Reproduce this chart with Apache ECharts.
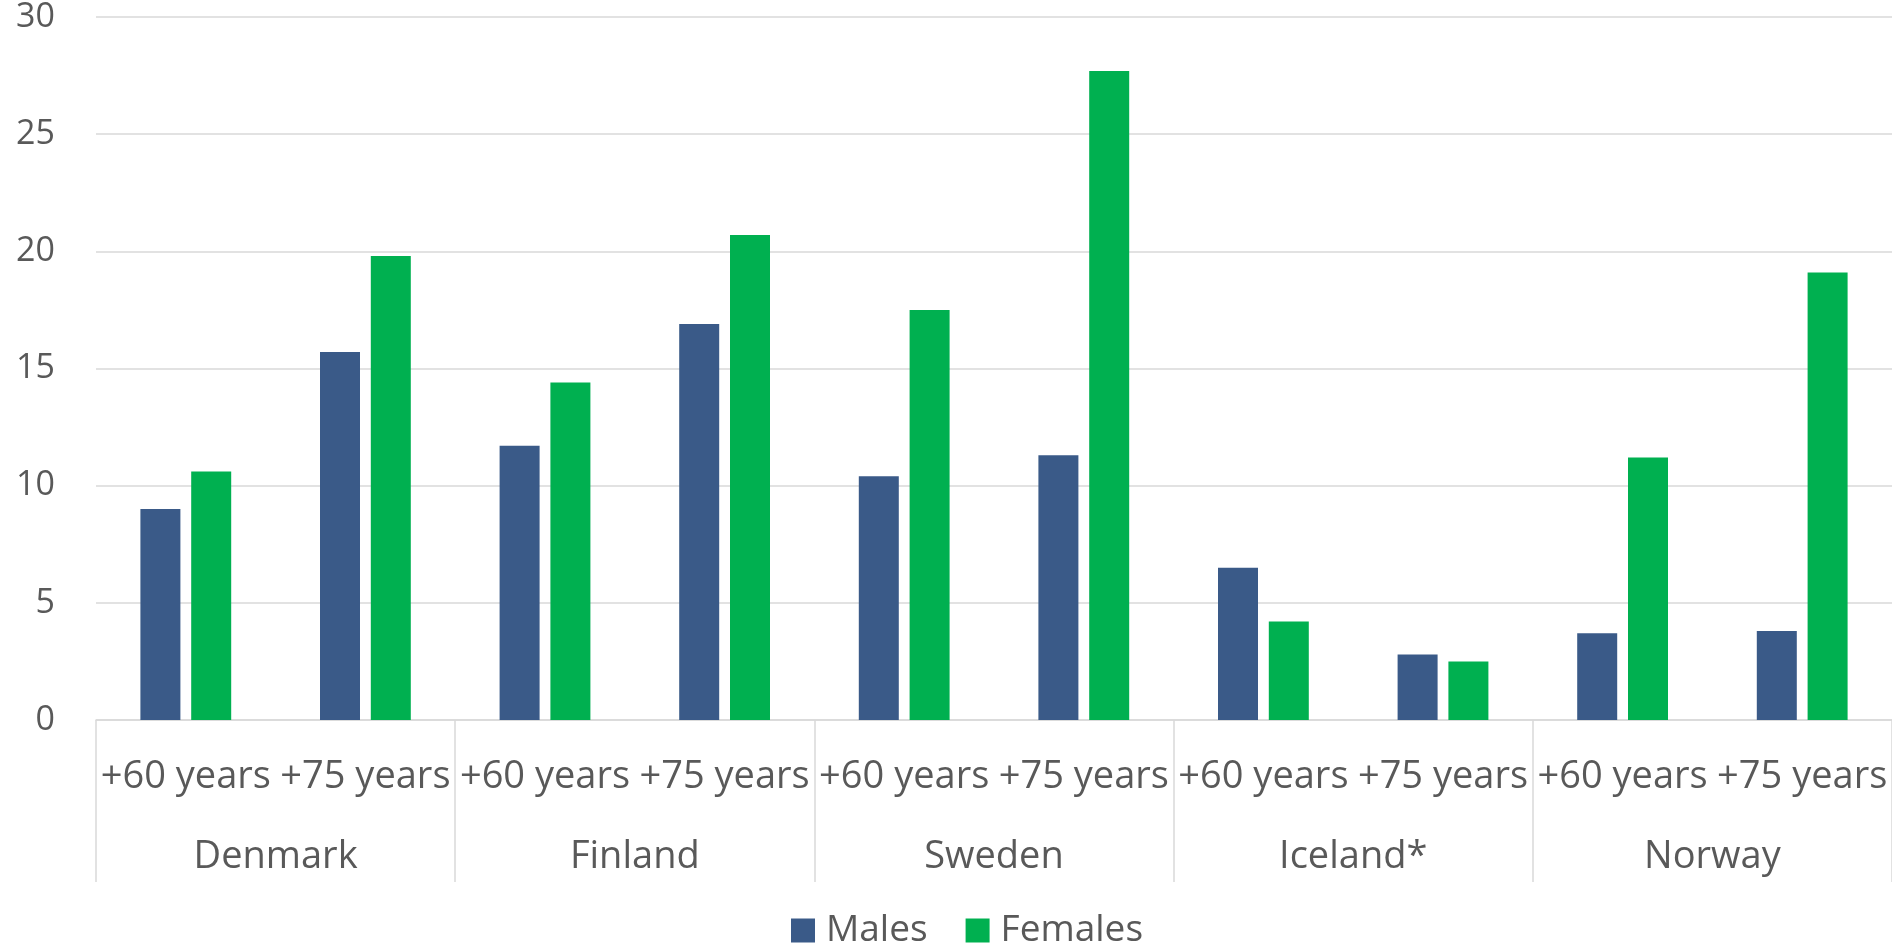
<!DOCTYPE html>
<html>
<head>
<meta charset="utf-8">
<title>Males / Females by country and age</title>
<script src="https://cdn.jsdelivr.net/npm/echarts@6/dist/echarts.min.js"></script>
<style>
  html, body { margin: 0; padding: 0; background: #fff; }
  #chart { width: 1892px; height: 947px; }
</style>
</head>
<body>
<div id="chart"></div>
<script>
// data
var countries = ['Denmark', 'Finland', 'Sweden', 'Iceland*', 'Norway']
var ageGroups = ['+60 years', '+75 years']
var males = [9.0, 15.7, 11.7, 16.9, 10.4, 11.3, 6.5, 2.8, 3.7, 3.8]
var females = [10.6, 19.8, 14.4, 20.7, 17.5, 27.7, 4.2, 2.5, 11.2, 19.1]
var yTicks = { min: 0, max: 30, interval: 5 }

// one age label per bar group, repeated for each country
var subCategories = []
countries.forEach(function () {
  ageGroups.forEach(function (a) { subCategories.push(a) })
})

var textColor = '#595959'
var lineColor = '#d9d9d9'
var font = '"Open Sans", "Noto Sans", sans-serif'

var chart = echarts.init(document.getElementById('chart'))
chart.setOption({
  animation: false,
  textStyle: { fontFamily: font },
  grid: {
    left: 96,
    top: 16,
    width: 1801,
    height: 704
  },
  legend: {
    data: ['Males', 'Females'],
    left: 791,
    top: 912,
    padding: 0,
    icon: 'rect',
    itemWidth: 24,
    itemHeight: 24,
    itemGap: 38,
    textStyle: {
      fontFamily: font,
      fontSize: 37,
      color: textColor,
      padding: [0, 0, 0, 6]
    }
  },
  xAxis: [
    {
      type: 'category',
      data: subCategories,
      position: 'bottom',
      axisLine: { lineStyle: { color: lineColor, width: 1.5 } },
      axisTick: { show: false },
      axisLabel: {
        interval: 0,
        margin: 57,
        verticalAlign: 'middle',
        fontFamily: font,
        fontSize: 38,
        color: textColor
      }
    },
    {
      // country level, ticks used as the group separators
      type: 'category',
      data: countries,
      position: 'bottom',
      axisLine: { show: false },
      axisTick: {
        show: true,
        length: 162,
        lineStyle: { color: lineColor, width: 1.5 }
      },
      axisLabel: {
        interval: 0,
        margin: 137,
        verticalAlign: 'middle',
        fontFamily: font,
        fontSize: 38,
        color: textColor
      }
    }
  ],
  yAxis: {
    type: 'value',
    min: yTicks.min,
    max: yTicks.max,
    interval: yTicks.interval,
    axisLine: { show: false },
    axisTick: { show: false },
    splitLine: { lineStyle: { color: lineColor, width: 1.5 } },
    axisLabel: {
      margin: 41,
      fontFamily: font,
      fontSize: 34,
      color: textColor
    }
  },
  series: [
    {
      name: 'Males',
      type: 'bar',
      xAxisIndex: 0,
      data: males,
      barWidth: 40,
      barGap: '27%',
      itemStyle: { color: '#3a5a88' }
    },
    {
      name: 'Females',
      type: 'bar',
      xAxisIndex: 0,
      data: females,
      barWidth: 40,
      barGap: '27%',
      itemStyle: { color: '#00b050' }
    }
  ]
})
</script>
</body>
</html>
